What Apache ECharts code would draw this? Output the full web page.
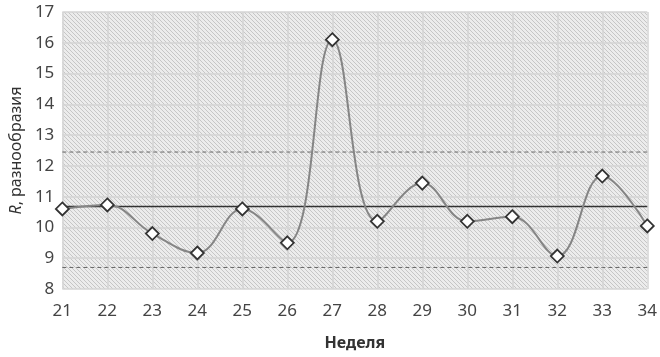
<!DOCTYPE html>
<html><head><meta charset="utf-8">
<script src="https://cdn.jsdelivr.net/npm/echarts@6/dist/echarts.min.js"></script>
<style>html,body{margin:0;padding:0;background:#fff}#c{width:660px;height:357px}</style>
</head><body><div id="c"></div>
<script>
var weeks = ['21','22','23','24','25','26','27','28','29','30','31','32','33','34'];
var values = [10.6, 10.73, 9.8, 9.17, 10.6, 9.5, 16.1, 10.2, 11.44, 10.2, 10.35, 9.07, 11.67, 10.05];
var meanValue = 10.68;
var upperLimit = 12.45;
var lowerLimit = 8.7;
var yTicks = [8, 17, 1];

var pc = document.createElement('canvas');
pc.width = 4; pc.height = 4;
var g = pc.getContext('2d');
g.fillStyle = '#ececec'; g.fillRect(0,0,4,4);
g.strokeStyle = '#c6c6c6'; g.lineWidth = 1;
g.beginPath(); g.moveTo(-1,-1); g.lineTo(5,5); g.moveTo(-1,3); g.lineTo(1,5); g.moveTo(3,-1); g.lineTo(5,1); g.stroke();

var chart = echarts.init(document.getElementById('c'));
var font = 'Noto Sans';
chart.setOption({
  animation: false,
  grid: {left: 62, right: 9, top: 12, bottom: 68, show: true, borderWidth: 0,
         backgroundColor: {image: pc, repeat: 'repeat'}},
  xAxis: {
    type: 'category', data: weeks, boundaryGap: false,
    name: 'Неделя', nameLocation: 'middle', nameGap: 46,
    nameTextStyle: {fontFamily: font, fontSize: 16, color: '#333', fontWeight: 'bold'},
    axisLine: {show: false}, axisTick: {show: false},
    axisLabel: {fontFamily: font, fontSize: 17, color: '#444', margin: 14},
    splitLine: {show: true, lineStyle: {color: '#d4d4d4', width: 1.5}}
  },
  yAxis: {
    type: 'value', min: yTicks[0], max: yTicks[1], interval: yTicks[2],
    name: '{i|R}, разнообразия', nameLocation: 'middle', nameGap: 37, nameRotate: 90,
    nameTextStyle: {fontFamily: font, fontSize: 16, color: '#333',
      rich: {i: {fontStyle: 'italic', fontFamily: font, fontSize: 16, color: '#333'}}},
    axisLine: {show: false}, axisTick: {show: false},
    axisLabel: {fontFamily: font, fontSize: 17, color: '#444', margin: 8},
    splitLine: {show: true, lineStyle: {color: '#d4d4d4', width: 1.5}}
  },
  series: [
    {type: 'line', data: weeks.map(function(){return upperLimit;}), symbol: 'none',
     lineStyle: {color: '#666', width: 1, type: [4, 3]}, z: 2},
    {type: 'line', data: weeks.map(function(){return lowerLimit;}), symbol: 'none',
     lineStyle: {color: '#666', width: 1, type: [4, 3]}, z: 2},
    {type: 'line', data: weeks.map(function(){return meanValue;}), symbol: 'none',
     lineStyle: {color: '#333', width: 1.5}, z: 3},
    {type: 'line', data: values, smooth: 0.4, symbol: 'diamond', symbolSize: 13,
     lineStyle: {color: '#858585', width: 2},
     itemStyle: {color: '#fff', borderColor: '#333', borderWidth: 1.8}, z: 4}
  ]
});
</script></body></html>
